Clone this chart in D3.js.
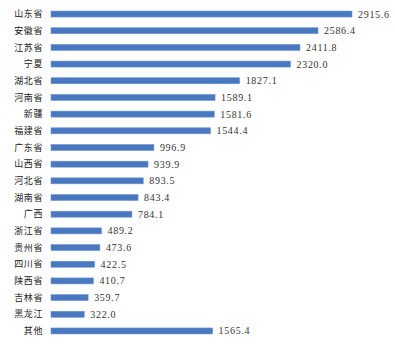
<!DOCTYPE html>
<html><head><meta charset="utf-8">
<script src="https://cdn.jsdelivr.net/npm/d3@7"></script>
<style>body{margin:0;background:#fff}</style>
</head><body>
<svg id="c" width="395" height="346"></svg>
<script>
const categories = ["山东省","安徽省","江苏省","宁夏","湖北省","河南省","新疆","福建省","广东省","山西省","河北省","湖南省","广西","浙江省","贵州省","四川省","陕西省","吉林省","黑龙江","其他"];
const values = [2915.6,2586.4,2411.8,2320.0,1827.1,1589.1,1581.6,1544.4,996.9,939.9,893.5,843.4,784.1,489.2,473.6,422.5,410.7,359.7,322.0,1565.4];

const svg = d3.select("#c");
const x = d3.scaleLinear().domain([0, 2915.6]).range([51, 352]);
const y = d3.scaleBand().domain(categories).range([5.7, 339.3]).paddingInner(0.64).paddingOuter(0.32);

svg.selectAll("rect.bar").data(values).enter().append("rect")
  .attr("class","bar")
  .attr("x", x(0))
  .attr("y", (d,i)=>y(categories[i]))
  .attr("width", d=>x(d)-x(0))
  .attr("height", y.bandwidth())
  .attr("fill", "#4a78c0")
  .attr("stroke", "#6f95d0").attr("stroke-width", 0.6);

svg.selectAll("text.cat").data(categories).enter().append("text")
  .attr("x", 43)
  .attr("y", d=>y(d)+y.bandwidth()/2)
  .attr("dy","0.35em")
  .attr("text-anchor","end")
  .attr("font-family","Noto Sans CJK SC")
  .attr("font-size", 9)
  .attr("letter-spacing", 0.6)
  .attr("fill","#222")
  .text(d=>d);

svg.selectAll("text.val").data(values).enter().append("text")
  .attr("x", d=>x(d)+6)
  .attr("y", (d,i)=>y(categories[i])+y.bandwidth()/2)
  .attr("dy","0.35em")
  .attr("font-family","Liberation Serif")
  .attr("font-size", 10)
  .attr("letter-spacing", 0.7)
  .attr("fill","#333")
  .text(d=>d.toFixed(1));
</script>
</body></html>
